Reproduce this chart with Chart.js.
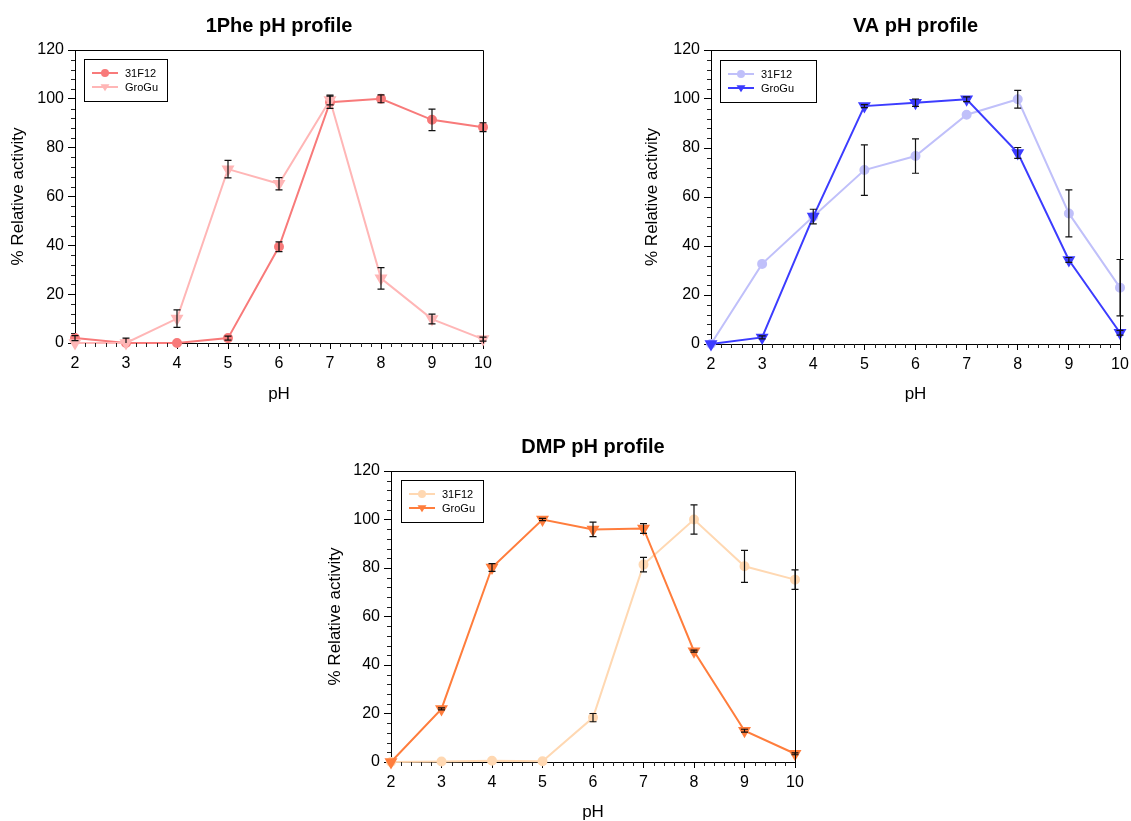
<!DOCTYPE html>
<html>
<head>
<meta charset="utf-8">
<script src="https://cdn.jsdelivr.net/npm/chart.js@4.4.1/dist/chart.umd.min.js"></script>
<style>
  body { margin: 0; background: #fff; width: 1131px; height: 821px; position: relative; overflow: hidden; }
  canvas { position: absolute; }
</style>
</head>
<body>
<canvas id="phe" width="500" height="410" style="left:0;top:0"></canvas>
<canvas id="va" width="520" height="410" style="left:630px;top:0"></canvas>
<canvas id="dmp" width="500" height="401" style="left:310px;top:420px"></canvas>
<script>
// pH values on the x axis
const pH = [2, 3, 4, 5, 6, 7, 8, 9, 10];

// 1Phe
const phe31F12 = [2, 0, 0, 2, 39.4, 98.6, 100, 91.4, 88.4];
const phe31F12Err = [1, 0, 0, 0.8, 2, 2.5, 1.6, 4.4, 1.8];
const pheGroGu = [0, 0, 10, 71.2, 65.2, 99.5, 26.5, 9.8, 1.6];
const pheGroGuErr = [0, 2, 3.6, 3.6, 2.5, 2, 4.4, 2, 0.8];

// VA
const va31F12 = [0, 32.7, 52, 71, 76.7, 93.6, 99.9, 53.3, 23];
const va31F12Err = [0, 0, 0, 10.3, 7, 0, 3.6, 9.6, 11.5];
const vaGroGu = [0, 2.7, 52, 97.1, 98.5, 99.9, 78, 34.3, 4.6];
const vaGroGuErr = [0, 0.6, 3, 0.6, 1.5, 1, 2.2, 1, 1];

// DMP
const dmp31F12 = [0, 0.2, 0.5, 0.3, 18.3, 81.4, 100, 80.7, 75.2];
const dmp31F12Err = [0, 0, 0, 0, 1.7, 3, 6, 6.6, 4];
const dmpGroGu = [0, 21.9, 80.2, 100, 95.9, 96.3, 45.7, 12.9, 3.4];
const dmpGroGuErr = [0, 0.4, 1.6, 0.5, 3, 2, 0.4, 0.6, 0.4];

const FONT = "'Liberation Sans', Arial, Helvetica, sans-serif";

function tri(ctx, cx, cy, r) {
  ctx.beginPath();
  ctx.moveTo(cx - r, cy - r * 0.6);
  ctx.lineTo(cx + r, cy - r * 0.6);
  ctx.lineTo(cx, cy + r * 0.95);
  ctx.closePath();
  ctx.fill();
}

const decoPlugin = {
  id: 'deco',
  afterDatasetsDraw(chart, args, o) {
    const { ctx, chartArea: a, scales: { x, y } } = chart;
    ctx.save();
    // frame on top and right
    ctx.strokeStyle = '#000';
    ctx.lineWidth = 1;
    ctx.beginPath();
    ctx.moveTo(Math.round(a.left) + 0.5, Math.round(a.top) + 0.5);
    ctx.lineTo(Math.round(a.right) + 0.5, Math.round(a.top) + 0.5);
    ctx.lineTo(Math.round(a.right) + 0.5, Math.round(a.bottom) + 0.5);
    ctx.stroke();

    // minor ticks
    ctx.strokeStyle = '#222';
    ctx.beginPath();
    for (let v = 0; v <= 120; v += 4) {
      if (v % 20 === 0) continue;
      const py = Math.round(y.getPixelForValue(v)) + 0.5;
      ctx.moveTo(a.left, py);
      ctx.lineTo(a.left - 4, py);
    }
    for (let k = 0; k <= 40; k++) {
      if (k % 5 === 0) continue;
      const px = Math.round(x.getPixelForValue(2 + k * 0.2)) + 0.5;
      ctx.moveTo(px, a.bottom);
      ctx.lineTo(px, a.bottom + 4);
    }
    ctx.stroke();

    // error bars
    ctx.strokeStyle = '#111';
    ctx.lineWidth = 1.2;
    chart.data.datasets.forEach((ds) => {
      ds.err.forEach((e, i) => {
        if (!e) return;
        const v = ds.data[i].y;
        const px = x.getPixelForValue(ds.data[i].x);
        const top = y.getPixelForValue(v + e);
        const lowV = v - e;
        const bot = y.getPixelForValue(Math.max(lowV, 0));
        ctx.beginPath();
        ctx.moveTo(px, top);
        ctx.lineTo(px, bot);
        ctx.moveTo(px - 3.5, top);
        ctx.lineTo(px + 3.5, top);
        if (lowV >= 0) {
          ctx.moveTo(px - 3.5, bot);
          ctx.lineTo(px + 3.5, bot);
        }
        ctx.stroke();
      });
    });
    ctx.restore();
  },
  afterDraw(chart, args, o) {
    const { ctx, chartArea: a } = chart;
    ctx.save();
    ctx.fillStyle = '#000';
    ctx.textAlign = 'center';
    ctx.textBaseline = 'middle';
    const cx = (a.left + a.right) / 2;
    ctx.font = `bold 20px ${FONT}`;
    ctx.fillText(o.title, cx, o.titleY);
    ctx.font = `17px ${FONT}`;
    ctx.fillText('pH', cx, o.xTitleY);
    ctx.save();
    ctx.translate(o.yTitleX, (a.top + a.bottom) / 2);
    ctx.rotate(-Math.PI / 2);
    ctx.fillText('% Relative activity', 0, 0);
    ctx.restore();

    // legend box
    const lx = a.left + o.legendDx, ly = a.top + o.legendDy;
    ctx.fillStyle = '#fff';
    ctx.fillRect(lx, ly, o.legendW, 42);
    ctx.strokeStyle = '#000';
    ctx.lineWidth = 1;
    ctx.strokeRect(Math.round(lx) + 0.5, Math.round(ly) + 0.5, o.legendW, 42);
    ctx.font = `11px ${FONT}`;
    ctx.textAlign = 'left';
    chart.data.datasets.forEach((ds, i) => {
      const yy = ly + 14 + i * 14;
      ctx.strokeStyle = ds.borderColor;
      ctx.lineWidth = 2;
      ctx.beginPath();
      ctx.moveTo(lx + 8, yy);
      ctx.lineTo(lx + 34, yy);
      ctx.stroke();
      ctx.fillStyle = ds.borderColor;
      if (ds.pointStyle === 'circle') {
        ctx.beginPath();
        ctx.arc(lx + 21, yy, 4, 0, Math.PI * 2);
        ctx.fill();
      } else {
        tri(ctx, lx + 21, yy, 4.5);
      }
      ctx.fillStyle = '#000';
      ctx.fillText(ds.label, lx + 41, yy + 1);
    });
    ctx.restore();
  }
};

function series(label, vals, err, color, style, order) {
  const isCircle = style === 'circle';
  return {
    label,
    data: pH.map((p, i) => ({ x: p, y: vals[i] })),
    err,
    borderColor: color,
    backgroundColor: color,
    pointBackgroundColor: color,
    pointBorderColor: color,
    pointStyle: style,
    pointRotation: isCircle ? 0 : 180,
    pointRadius: isCircle ? 4 : 5.5,
    borderWidth: 2,
    tension: 0,
    clip: false,
    order
  };
}

function makeChart(id, box, decoOpts, datasets) {
  const canvas = document.getElementById(id);
  return new Chart(canvas, {
    type: 'line',
    data: { datasets },
    options: {
      responsive: false,
      animation: false,
      devicePixelRatio: 1,
      layout: { padding: { top: box.top, right: canvas.width - box.right, left: 0, bottom: 0 } },
      plugins: { legend: { display: false }, tooltip: { enabled: false }, deco: decoOpts },
      scales: {
        x: {
          type: 'linear', min: 2, max: 10,
          afterFit: (s) => { s.height = canvas.height - box.bottom; },
          ticks: { stepSize: 1, color: '#000', font: { family: FONT, size: 16 }, padding: 5, maxRotation: 0 },
          grid: { display: true, drawOnChartArea: false, drawTicks: true, tickLength: 6, color: '#000' },
          border: { display: true, color: '#000', width: 1 }
        },
        y: {
          min: 0, max: 120,
          afterFit: (s) => { s.width = box.left; },
          ticks: { stepSize: 20, color: '#000', font: { family: FONT, size: 16 }, padding: 4 },
          grid: { display: true, drawOnChartArea: false, drawTicks: true, tickLength: 7, color: '#000' },
          border: { display: true, color: '#000', width: 1 }
        }
      }
    },
    plugins: [decoPlugin]
  });
}

makeChart('phe', { left: 75, top: 50, right: 483, bottom: 343 },
  { title: '1Phe pH profile', titleY: 26, xTitleY: 394, yTitleX: 18, legendDx: 9, legendDy: 9, legendW: 83 },
  [
    series('31F12', phe31F12, phe31F12Err, 'rgb(248,122,122)', 'circle', 1),
    series('GroGu', pheGroGu, pheGroGuErr, 'rgb(255,182,182)', 'triangle', 0)
  ]);

makeChart('va', { left: 81, top: 50, right: 490, bottom: 344 },
  { title: 'VA pH profile', titleY: 26, xTitleY: 394, yTitleX: 22, legendDx: 9, legendDy: 10, legendW: 96 },
  [
    series('31F12', va31F12, va31F12Err, 'rgb(192,192,250)', 'circle', 1),
    series('GroGu', vaGroGu, vaGroGuErr, 'rgb(60,60,255)', 'triangle', 0)
  ]);

makeChart('dmp', { left: 81, top: 51, right: 485, bottom: 342 },
  { title: 'DMP pH profile', titleY: 27, xTitleY: 392, yTitleX: 25, legendDx: 10, legendDy: 9, legendW: 82 },
  [
    series('31F12', dmp31F12, dmp31F12Err, 'rgb(255,216,178)', 'circle', 1),
    series('GroGu', dmpGroGu, dmpGroGuErr, 'rgb(255,125,60)', 'triangle', 0)
  ]);
</script>
</body>
</html>
